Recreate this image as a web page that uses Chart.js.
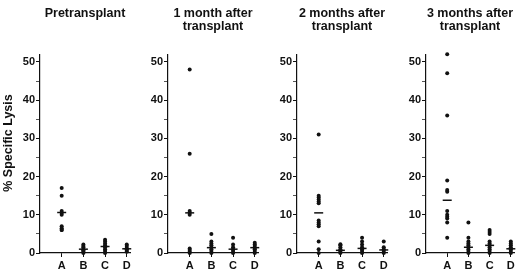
<!DOCTYPE html>
<html>
<head>
<meta charset="utf-8">
<script src="https://cdn.jsdelivr.net/npm/chart.js@4/dist/chart.umd.min.js"></script>
<style>
  html, body { margin: 0; padding: 0; background: #fff; }
  #wrap { position: relative; width: 520px; height: 273px; overflow: hidden; background: #fff; }
  canvas { position: absolute; top: 0; }
</style>
</head>
<body>
<div id="wrap">
  <canvas id="c1" width="140" height="273" style="left:0px"></canvas>
  <canvas id="c2" width="128" height="273" style="left:140px"></canvas>
  <canvas id="c3" width="128" height="273" style="left:268px"></canvas>
  <canvas id="c4" width="124" height="273" style="left:396px"></canvas>
</div>
<script>
// ---------- data ----------
const categories = ['A', 'B', 'C', 'D'];
const yTickValues = [0, 5, 10, 15, 20, 25, 30, 35, 40, 45, 50];
const yAxisTitle = '% Specific Lysis';

const titlePre = ['Pretransplant'];
const title1m = ['1 month after', 'transplant'];
const title2m = ['2 months after', 'transplant'];
const title3m = ['3 months after', 'transplant'];

// Pretransplant
const preA = [17, 15, 11, 10.5, 10, 7, 6.5, 6, 6];
const preB = [2.2, 1.8, 1.5, 1, 0.7, 0.4, 0];
const preC = [3.5, 3, 2.5, 2, 1.5, 1, 0.5, 0];
const preD = [2.2, 1.8, 1.3, 1, 0.6, 0.3];
const preMeans = [10.6, 1.0, 1.7, 1.1];

// 1 month after transplant
const m1A = [48, 26, 11, 10.5, 10, 1.2, 0.8, 0.3, 0];
const m1B = [5, 3, 2.5, 2, 1.5, 1, 0.5, 0];
const m1C = [4, 2.2, 1.5, 1, 0.5, 0];
const m1D = [2.7, 2.2, 1.8, 1.3, 1, 0.5, 0];
const m1Means = [10.5, 1.4, 1.0, 1.4];

// 2 months after transplant
const m2A = [31, 15, 14.5, 14, 13.5, 13, 8.5, 8, 7.5, 7, 3, 1, 0];
const m2B = [2.3, 2, 1.5, 1, 0.5, 0.2, 0];
const m2C = [4, 3, 2.2, 1.5, 1, 0.5, 0];
const m2D = [3, 1.5, 1, 0.5, 0];
const m2Means = [10.5, 0.7, 1.2, 0.8];

// 3 months after transplant
const m3A = [52, 47, 36, 19, 16.5, 16, 11, 10, 9.5, 9, 8, 4];
const m3B = [8, 4, 3, 2.5, 2, 1.5, 1, 0.5, 0];
const m3C = [6, 5.5, 5, 3, 2.5, 2, 1.5, 1, 0.5, 0];
const m3D = [3, 2.5, 2, 1.5, 1, 0.5, 0];
const m3Means = [13.8, 1.5, 2.0, 1.1];

// ---------- rendering ----------
const TICK_FONT = { family: "'Liberation Sans', Arial, sans-serif", size: 11, weight: 'bold' };
const TITLE_FONT = { family: "'Liberation Sans', Arial, sans-serif", size: 12.5, weight: 'bold' };
const INK = '#111';

function toPoints(groups) {
  const pts = [];
  groups.forEach((g, i) => g.forEach(v => pts.push({ x: i + 1, y: v })));
  return pts;
}

const yTitlePlugin = {
  id: 'yTitle',
  afterDraw(chart, args, opts) {
    if (!opts || !opts.text) return;
    const ctx = chart.ctx;
    ctx.save();
    ctx.translate(opts.x, opts.y);
    ctx.rotate(-Math.PI / 2);
    ctx.font = 'bold 12.5px "Liberation Sans", Arial, sans-serif';
    ctx.fillStyle = INK;
    ctx.textAlign = 'center';
    ctx.textBaseline = 'middle';
    ctx.fillText(opts.text, 0, 0);
    ctx.restore();
  }
};

function makePanel(id, titleLines, groups, means, yWidth, padRight, yTitle) {
  const oneLine = titleLines.length === 1;
  return new Chart(document.getElementById(id), {
    type: 'scatter',
    data: {
      datasets: [
        {
          data: toPoints(groups),
          backgroundColor: INK,
          borderColor: INK,
          pointRadius: 2,
          pointBorderWidth: 0,
          pointHoverRadius: 2,
          clip: false
        },
        {
          data: means.map((m, i) => ({ x: i + 1, y: m })),
          pointStyle: 'line',
          pointRadius: 4.5,
          pointBorderWidth: 1.5,
          borderColor: INK,
          backgroundColor: INK,
          clip: false
        }
      ]
    },
    options: {
      responsive: false,
      animation: false,
      devicePixelRatio: 1,
      layout: { padding: { left: 0, right: padRight, top: 0, bottom: 0 } },
      plugins: {
        legend: { display: false },
        tooltip: { enabled: false },
        title: {
          display: true,
          text: titleLines,
          fullSize: false,
          color: INK,
          font: Object.assign({}, TITLE_FONT, { lineHeight: 1.05 }),
          padding: oneLine ? { top: 7, bottom: 34.2 } : { top: 7, bottom: 21 }
        },
        yTitle: yTitle ? { text: yAxisTitle, x: 9, y: 143 } : {}
      },
      scales: {
        x: {
          type: 'linear',
          min: 0,
          max: 4.15,
          afterBuildTicks: s => { s.ticks = categories.map((c, i) => ({ value: i + 1 })); },
          afterFit: s => { s.height = 20; },
          ticks: {
            callback: v => categories[v - 1] || '',
            color: INK,
            font: TICK_FONT,
            padding: 2,
            maxRotation: 0,
            autoSkip: false
          },
          grid: { drawOnChartArea: false, tickLength: 4, color: INK, tickWidth: 1 },
          border: { display: true, color: INK, width: 1.2 }
        },
        y: {
          type: 'linear',
          min: 0,
          max: 52,
          afterBuildTicks: s => { s.ticks = yTickValues.map(v => ({ value: v })); },
          afterFit: s => { s.width = yWidth; },
          ticks: {
            callback: v => (v % 10 === 0 ? String(v) : ''),
            color: INK,
            font: TICK_FONT,
            padding: 1,
            autoSkip: false
          },
          grid: {
            drawOnChartArea: false,
            tickLength: 4,
            color: ctx => (ctx.tick && ctx.tick.value % 10 === 0 ? INK : '#555'),
            tickWidth: 1
          },
          border: { display: true, color: INK, width: 1.2 }
        }
      }
    },
    plugins: [yTitlePlugin]
  });
}

makePanel('c1', titlePre, [preA, preB, preC, preD], preMeans, 40, 10, true);
makePanel('c2', title1m, [m1A, m1B, m1C, m1D], m1Means, 28, 10, false);
makePanel('c3', title2m, [m2A, m2B, m2C, m2D], m2Means, 29, 9, false);
makePanel('c4', title3m, [m3A, m3B, m3C, m3D], m3Means, 30, 4, false);
</script>
</body>
</html>
